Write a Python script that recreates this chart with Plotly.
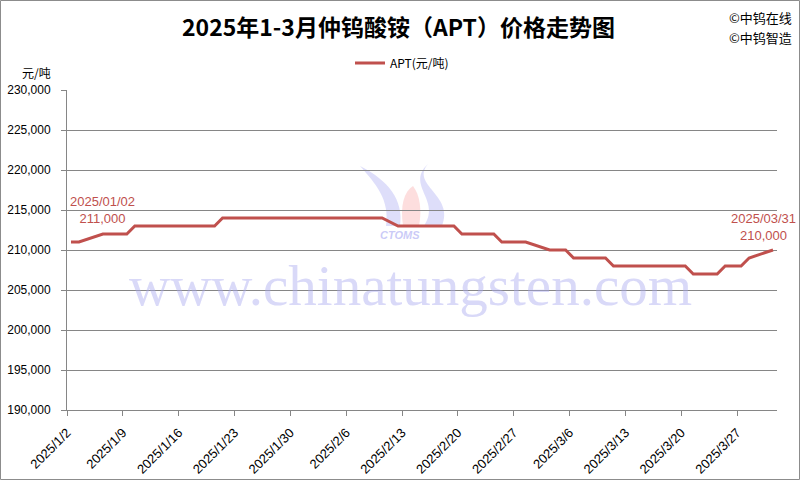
import plotly.graph_objects as go
from datetime import datetime, timedelta

# ---- data ----
dates = ["2025-01-02", "2025-01-03", "2025-01-06", "2025-01-09", "2025-01-10",
         "2025-01-20", "2025-01-21", "2025-02-10", "2025-02-12", "2025-02-19",
         "2025-02-20", "2025-02-24", "2025-02-25", "2025-02-28", "2025-03-03",
         "2025-03-05", "2025-03-06", "2025-03-10", "2025-03-11", "2025-03-20",
         "2025-03-21", "2025-03-24", "2025-03-25", "2025-03-27", "2025-03-28",
         "2025-03-31"]
prices = [211000, 211000, 212000, 212000, 213000,
          213000, 214000, 214000, 213000, 213000,
          212000, 212000, 211000, 211000, 210000,
          210000, 209000, 209000, 208000, 208000,
          207000, 207000, 208000, 208000, 209000,
          210000]
tick_labels = ["2025/1/2", "2025/1/9", "2025/1/16", "2025/1/23", "2025/1/30",
               "2025/2/6", "2025/2/13", "2025/2/20", "2025/2/27", "2025/3/6",
               "2025/3/13", "2025/3/20", "2025/3/27"]
series_name = "APT(元/吨)"
title_text = "2025年1-3月仲钨酸铵（APT）价格走势图"

# ---- layout geometry ----
W, H = 800, 480
L, R, T, B = 67, 23, 90, 70
PW, PH = W - L - R, H - T - B

def px(x):
    return (x - L) / PW

def py(y):
    return (H - B - y) / PH

RED = "#C0504D"
CJK = "Noto Sans CJK SC"
NUM = "Liberation Sans, Arial, sans-serif"

half = timedelta(hours=12)
tickvals = [(datetime.strptime(t, "%Y/%m/%d") - half).strftime("%Y-%m-%d %H:%M") for t in tick_labels]
x0 = (datetime.strptime(dates[0], "%Y-%m-%d") - half).strftime("%Y-%m-%d %H:%M")
x1 = (datetime.strptime(dates[-1], "%Y-%m-%d") + half).strftime("%Y-%m-%d %H:%M")

fig = go.Figure()
fig.add_trace(go.Scatter(x=dates, y=prices, mode="lines", name=series_name,
                         line=dict(color=RED, width=3)))

annotations = []
# watermark
annotations.append(dict(text="www.chinatungsten.com", xref="paper", yref="paper",
                        x=px(410), y=py(285), xanchor="center", yanchor="middle",
                        showarrow=False,
                        font=dict(family="Liberation Serif, Times New Roman, serif", size=57,
                                  color="rgba(170,170,240,0.45)")))
annotations.append(dict(text="<b><i>CTOMS</i></b>", xref="paper", yref="paper",
                        x=px(400), y=py(235), xanchor="center", yanchor="middle",
                        showarrow=False,
                        font=dict(family="Liberation Sans, Arial", size=11,
                                  color="rgba(150,150,240,0.5)")))
# title
annotations.append(dict(text="<b>" + title_text + "</b>", xref="paper", yref="paper",
                        x=px(398), y=py(26), xanchor="center", yanchor="middle",
                        showarrow=False, font=dict(family=CJK, size=23, color="black")))
# copyright
annotations.append(dict(text="©中钨在线", xref="paper", yref="paper",
                        x=px(727), y=py(17), xanchor="left", yanchor="middle",
                        showarrow=False, font=dict(family=CJK, size=13, color="black")))
annotations.append(dict(text="©中钨智造", xref="paper", yref="paper",
                        x=px(727), y=py(38), xanchor="left", yanchor="middle",
                        showarrow=False, font=dict(family=CJK, size=13, color="black")))
# unit label
annotations.append(dict(text="元/吨", xref="paper", yref="paper",
                        x=px(36), y=py(72), xanchor="center", yanchor="middle",
                        showarrow=False, font=dict(family=CJK, size=12, color="black")))
# data labels
annotations.append(dict(text="2025/01/02<br>211,000", x=dates[0], y=prices[0],
                        xref="x", yref="y", xanchor="center", yanchor="bottom",
                        xshift=32, yshift=14, showarrow=False, align="center",
                        font=dict(family=NUM, size=13, color=RED)))
annotations.append(dict(text="2025/03/31<br>210,000", x=dates[-1], y=prices[-1],
                        xref="x", yref="y", xanchor="center", yanchor="bottom",
                        xshift=-10, yshift=5, showarrow=False, align="center",
                        font=dict(family=NUM, size=13, color=RED)))

shapes = []
# logo approximation (behind plot)
shapes.append(dict(type="path", xref="paper", yref="paper", layer="below",
                   path=f"M {px(360)},{py(166)} C {px(376)},{py(184)} {px(390)},{py(200)} {px(386)},{py(226)} "
                        f"L {px(400)},{py(226)} C {px(404)},{py(200)} {px(388)},{py(180)} {px(360)},{py(166)} Z",
                   fillcolor="rgba(160,160,240,0.35)", line=dict(width=0)))
shapes.append(dict(type="path", xref="paper", yref="paper", layer="below",
                   path=f"M {px(403)},{py(226)} C {px(400)},{py(205)} {px(404)},{py(192)} {px(413)},{py(186)} "
                        f"C {px(420)},{py(195)} {px(422)},{py(210)} {px(419)},{py(226)} Z",
                   fillcolor="rgba(250,160,160,0.35)", line=dict(width=0)))
shapes.append(dict(type="path", xref="paper", yref="paper", layer="below",
                   path=f"M {px(428)},{py(164)} C {px(410)},{py(185)} {px(455)},{py(195)} {px(442)},{py(226)} "
                        f"L {px(424)},{py(226)} C {px(442)},{py(200)} {px(405)},{py(185)} {px(428)},{py(164)} Z",
                   fillcolor="rgba(160,160,240,0.35)", line=dict(width=0)))
# outer border
shapes.append(dict(type="rect", xref="paper", yref="paper",
                   x0=px(0.5), x1=px(799.5), y0=py(479.5), y1=py(0.5),
                   line=dict(color="#8C8C8C", width=1)))

fig.update_layout(
    width=W, height=H,
    margin=dict(l=L, r=R, t=T, b=B, autoexpand=False),
    paper_bgcolor="white", plot_bgcolor="white",
    showlegend=True,
    legend=dict(orientation="h", x=px(350), xanchor="left", y=py(63), yanchor="middle",
                font=dict(family=CJK, size=12, color="black"),
                bgcolor="rgba(0,0,0,0)"),
    annotations=annotations,
    shapes=shapes,
    xaxis=dict(type="date", range=[x0, x1], tickmode="array",
               tickvals=tickvals, ticktext=tick_labels, tickangle=-45,
               automargin=False, ticklabelstandoff=4,
               showgrid=False, zeroline=False, showline=True,
               linecolor="#868686", linewidth=1,
               ticks="outside", ticklen=5, tickcolor="#868686",
               tickfont=dict(family=NUM, size=13, color="black")),
    yaxis=dict(range=[190000, 230000], dtick=5000, tickformat=",",
               automargin=False, ticklabelstandoff=8,
               showgrid=True, gridcolor="#868686", gridwidth=1,
               zeroline=False, showline=True, linecolor="#868686", linewidth=1,
               ticks="outside", ticklen=5, tickcolor="#868686",
               tickfont=dict(family=NUM, size=12, color="black")),
)

fig.write_html("out.html", config={"displayModeBar": False},
               post_script="document.body.style.margin='0px';document.body.style.padding='0px';")
